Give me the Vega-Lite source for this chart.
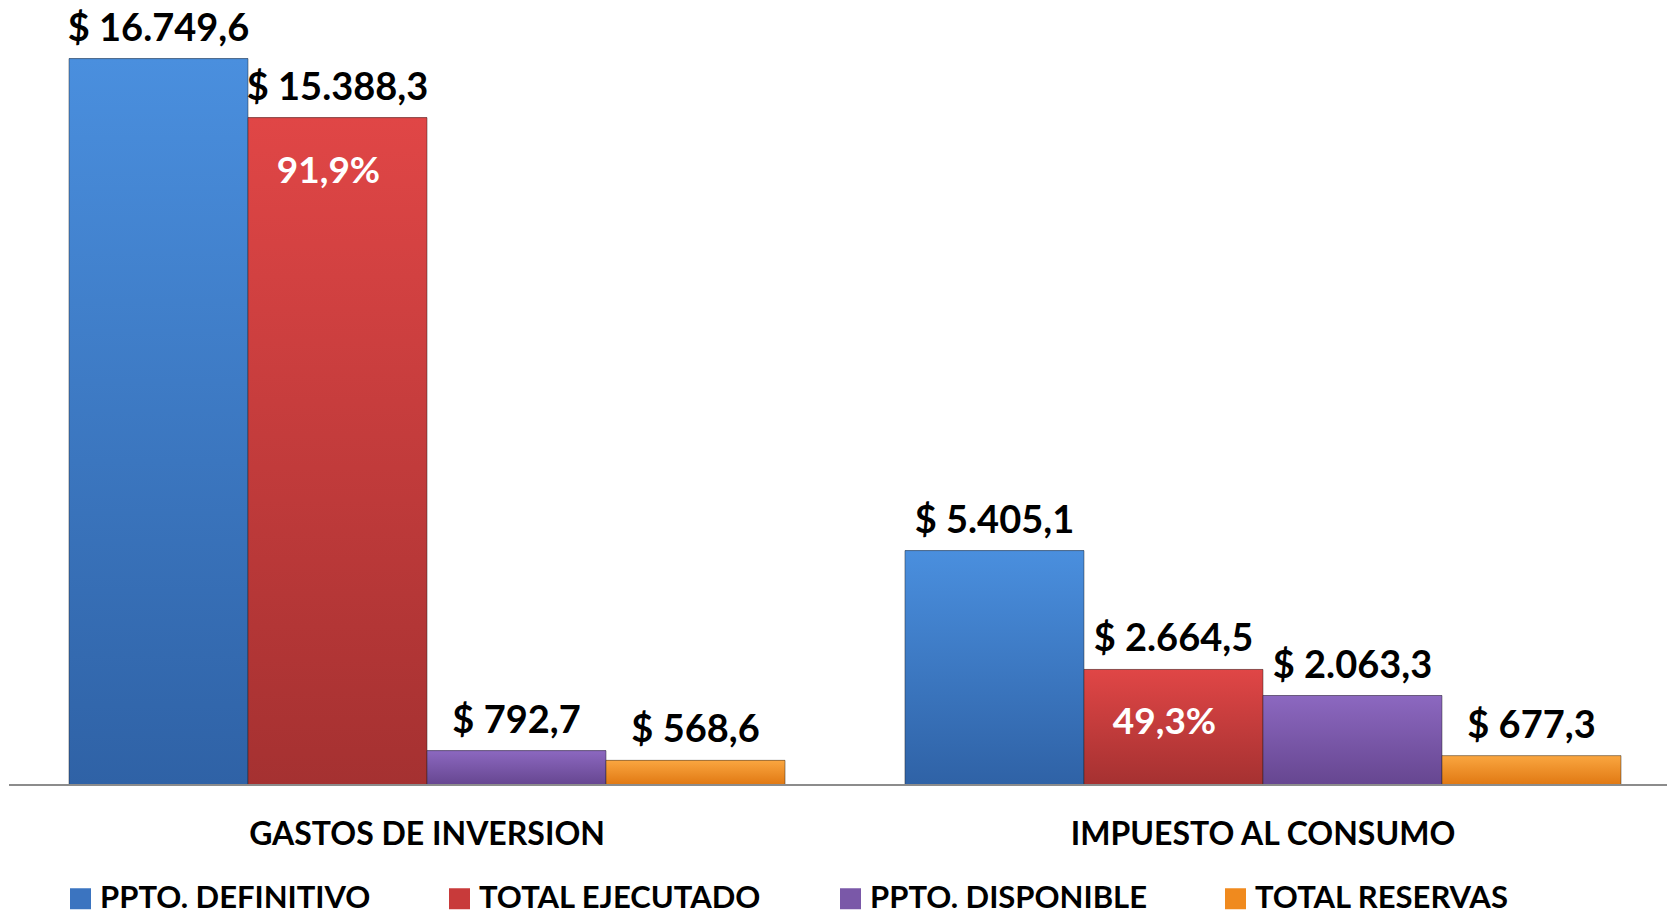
{
  "$schema": "https://vega.github.io/schema/vega-lite/v6.json",
  "width": 1658,
  "height": 785,
  "autosize": {"type": "none"},
  "padding": {"left": 9, "top": 0, "right": 0, "bottom": 132},
  "background": "white",
  "config": {
    "view": {"stroke": null},
    "font": "Lato",
    "locale": {
      "number": {"decimal": ",", "thousands": ".", "grouping": [3], "currency": ["$ ", ""]}
    }
  },
  "data": {
    "values": [
      {"group": "GASTOS DE INVERSION", "series": "PPTO. DEFINITIVO", "value": 16749.6, "pct": null},
      {"group": "GASTOS DE INVERSION", "series": "TOTAL EJECUTADO", "value": 15388.3, "pct": 0.919},
      {"group": "GASTOS DE INVERSION", "series": "PPTO. DISPONIBLE", "value": 792.7, "pct": null},
      {"group": "GASTOS DE INVERSION", "series": "TOTAL RESERVAS", "value": 568.6, "pct": null},
      {"group": "IMPUESTO AL CONSUMO", "series": "PPTO. DEFINITIVO", "value": 5405.1, "pct": null},
      {"group": "IMPUESTO AL CONSUMO", "series": "TOTAL EJECUTADO", "value": 2664.5, "pct": 0.493},
      {"group": "IMPUESTO AL CONSUMO", "series": "PPTO. DISPONIBLE", "value": 2063.3, "pct": null},
      {"group": "IMPUESTO AL CONSUMO", "series": "TOTAL RESERVAS", "value": 677.3, "pct": null}
    ]
  },
  "layer": [
    {
      "mark": {"type": "bar"},
      "encoding": {
        "x": {"field": "group", "type": "nominal", "sort": null,
          "scale": {"range": [60, 1612], "paddingInner": 0.1435, "paddingOuter": 0},
          "axis": {"title": null, "domain": false, "ticks": false, "labelAngle": 0, "labelFont": "Lato", "labelFontSize": 32, "labelFontWeight": "bold", "labelColor": "black", "labelPadding": 34, "labelLimit": 600}},
        "xOffset": {"field": "series", "type": "nominal", "sort": ["PPTO. DEFINITIVO", "TOTAL EJECUTADO", "PPTO. DISPONIBLE", "TOTAL RESERVAS"], "scale": {"paddingInner": 0, "paddingOuter": 0}},
        "y": {"field": "value", "type": "quantitative", "scale": {"domain": [0, 18100], "nice": false}, "axis": null},
        "color": {"field": "series", "type": "nominal",
          "scale": {"domain": ["PPTO. DEFINITIVO", "TOTAL EJECUTADO", "PPTO. DISPONIBLE", "TOTAL RESERVAS"], "range": ["#3B74C0", "#C83A3A", "#7A58A8", "#F08A1E"]},
          "legend": {"title": null, "orient": "none", "legendX": 56, "legendY": 883, "direction": "horizontal", "columns": 4, "symbolType": "square", "symbolSize": 441, "symbolStrokeWidth": 0, "labelFont": "Lato", "labelFontSize": 31, "labelFontWeight": "bold", "labelColor": "black", "labelLimit": 500, "labelOffset": 4, "columnPadding": 73}}
      }
    },
    {
      "mark": {"type": "bar", "stroke": "#222222", "strokeWidth": 1, "strokeOpacity": 0.45},
      "encoding": {
        "x": {"field": "group", "type": "nominal", "sort": null},
        "xOffset": {"field": "series", "type": "nominal", "sort": ["PPTO. DEFINITIVO", "TOTAL EJECUTADO", "PPTO. DISPONIBLE", "TOTAL RESERVAS"]},
        "y": {"field": "value", "type": "quantitative", "axis": null},
        "fill": {
          "condition": [
            {"test": "datum.series === 'PPTO. DEFINITIVO'", "value": {"gradient": "linear", "x1": 0, "y1": 0, "x2": 0, "y2": 1, "stops": [{"offset": 0, "color": "#4A8FDE"}, {"offset": 1, "color": "#2F62A6"}]}},
            {"test": "datum.series === 'TOTAL EJECUTADO'", "value": {"gradient": "linear", "x1": 0, "y1": 0, "x2": 0, "y2": 1, "stops": [{"offset": 0, "color": "#E04646"}, {"offset": 1, "color": "#A53131"}]}},
            {"test": "datum.series === 'PPTO. DISPONIBLE'", "value": {"gradient": "linear", "x1": 0, "y1": 0, "x2": 0, "y2": 1, "stops": [{"offset": 0, "color": "#8C68C0"}, {"offset": 1, "color": "#664690"}]}}
          ],
          "value": {"gradient": "linear", "x1": 0, "y1": 0, "x2": 0, "y2": 1, "stops": [{"offset": 0, "color": "#FAA640"}, {"offset": 1, "color": "#E07812"}]}
        }
      }
    },
    {
      "mark": {"type": "text", "baseline": "middle", "dy": -29, "font": "Lato", "fontSize": 38, "fontWeight": "bold", "color": "black"},
      "encoding": {
        "x": {"field": "group", "type": "nominal", "sort": null},
        "xOffset": {"field": "series", "type": "nominal", "sort": ["PPTO. DEFINITIVO", "TOTAL EJECUTADO", "PPTO. DISPONIBLE", "TOTAL RESERVAS"]},
        "y": {"field": "value", "type": "quantitative", "axis": null},
        "text": {"field": "value", "type": "quantitative", "format": "$,.1f"}
      }
    },
    {
      "transform": [{"filter": "datum.pct != null"}],
      "mark": {"type": "text", "baseline": "middle", "dy": 54, "dx": -9, "font": "Lato", "fontSize": 37, "fontWeight": "bold", "color": "white"},
      "encoding": {
        "x": {"field": "group", "type": "nominal", "sort": null},
        "xOffset": {"field": "series", "type": "nominal", "sort": ["PPTO. DEFINITIVO", "TOTAL EJECUTADO", "PPTO. DISPONIBLE", "TOTAL RESERVAS"]},
        "y": {"field": "value", "type": "quantitative", "axis": null},
        "text": {"field": "pct", "type": "quantitative", "format": ".1%"}
      }
    },
    {
      "data": {"values": [{}]},
      "mark": {"type": "rule", "color": "#8C8C8C", "strokeWidth": 2},
      "encoding": {
        "y": {"datum": 0, "type": "quantitative", "axis": null}
      }
    }
  ]
}
